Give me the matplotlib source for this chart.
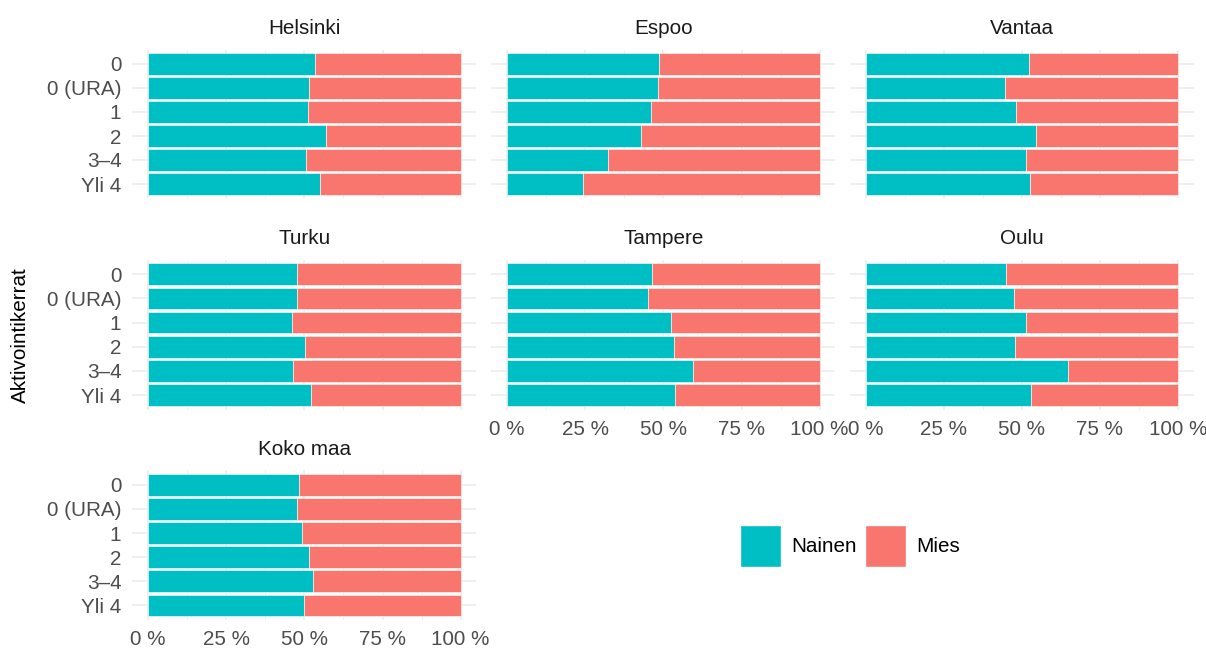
import matplotlib
matplotlib.use("Agg")
import matplotlib.pyplot as plt
from matplotlib.patches import Patch
import numpy as np

plt.rcParams['font.family'] = ['Liberation Sans', 'DejaVu Sans']

categories = ["0", "0 (URA)", "1", "2", "3\u20134", "Yli 4"]
cities = ["Helsinki", "Espoo", "Vantaa", "Turku", "Tampere", "Oulu", "Koko maa"]

# share of women (Nainen), per city, in the order of categories
helsinki = [53.5, 51.5, 51.2, 56.9, 50.4, 54.9]
espoo = [48.6, 48.2, 45.9, 42.9, 32.4, 24.2]
vantaa = [52.4, 44.6, 48.3, 54.5, 51.5, 52.5]
turku = [47.7, 47.7, 45.9, 50.2, 46.5, 52.1]
tampere = [46.5, 45.0, 52.5, 53.4, 59.4, 53.8]
oulu = [45.0, 47.5, 51.3, 47.7, 64.7, 52.8]
koko_maa = [48.2, 47.5, 49.1, 51.5, 52.7, 49.8]

nainen = [helsinki, espoo, vantaa, turku, tampere, oulu, koko_maa]
x_ticks = [0, 25, 50, 75, 100]
x_tick_labels = ["0 %", "25 %", "50 %", "75 %", "100 %"]

teal = "#00BFC4"
red = "#F8766D"
grid = "#EBEBEB"

W, H = 1206, 650
fig = plt.figure(figsize=(W / 100, H / 100), dpi=100)

col_x = [(132.4, 476.3), (491.4, 835.3), (850.0, 1193.6)]
row_y = [(49.6, 198.4), (259.7, 409.6), (470.4, 619.9)]
fs = 14.9

ypos = np.arange(1, len(categories) + 1)

for i, city in enumerate(cities):
    r, c = divmod(i, 3)
    x0, x1 = col_x[c]
    y0, y1 = row_y[r]
    ax = fig.add_axes([x0 / W, 1 - y1 / H, (x1 - x0) / W, (y1 - y0) / H])
    vals = np.array(nainen[i]) / 100
    ax.barh(ypos, vals, height=0.9, color=teal, edgecolor="white", linewidth=0.4, zorder=3)
    ax.barh(ypos, 1 - vals, left=vals, height=0.9, color=red, edgecolor="white", linewidth=0.4, zorder=3)
    ax.set_xlim(-0.05, 1.05)
    ax.set_ylim(6.6, 0.4)
    ax.set_xticks([t / 100 for t in x_ticks])
    ax.set_xticks([0.125, 0.375, 0.625, 0.875], minor=True)
    ax.set_yticks(ypos)
    ax.grid(True, which="major", color=grid, linewidth=1.1, zorder=0)
    ax.grid(True, which="minor", axis="x", color=grid, linewidth=0.55, zorder=0)
    for s in ax.spines.values():
        s.set_visible(False)
    ax.tick_params(which="both", length=0, labelsize=fs, labelcolor="#4D4D4D")
    ax.tick_params(axis="x", pad=7.5)
    ax.tick_params(axis="y", pad=8)
    if c == 0:
        ax.set_yticklabels(categories)
    else:
        ax.set_yticklabels([])
    # bottom-most panel in each column gets x labels
    if r == 2 or (r == 1 and c > 0):
        ax.set_xticklabels(x_tick_labels)
    else:
        ax.set_xticklabels([])
    fig.text((x0 + x1) / 2 / W, 1 - (y0 - 21) / H, city, ha="center", va="center",
             fontsize=fs, color="#1A1A1A")

fig.text(20 / W, 1 - 334.8 / H, "Aktivointikerrat", rotation=90, ha="center", va="center",
         fontsize=fs, color="black")

handles = [Patch(facecolor=teal, edgecolor="white"), Patch(facecolor=red, edgecolor="white")]
fig.legend(handles, ["Nainen", "Mies"], loc="center", bbox_to_anchor=(850 / W, 1 - 546 / H),
           ncol=2, frameon=False, fontsize=fs, handlelength=2.0, handleheight=2.7,
           handletextpad=0.5, columnspacing=0.4)

fig.savefig("out.png", dpi=100)
